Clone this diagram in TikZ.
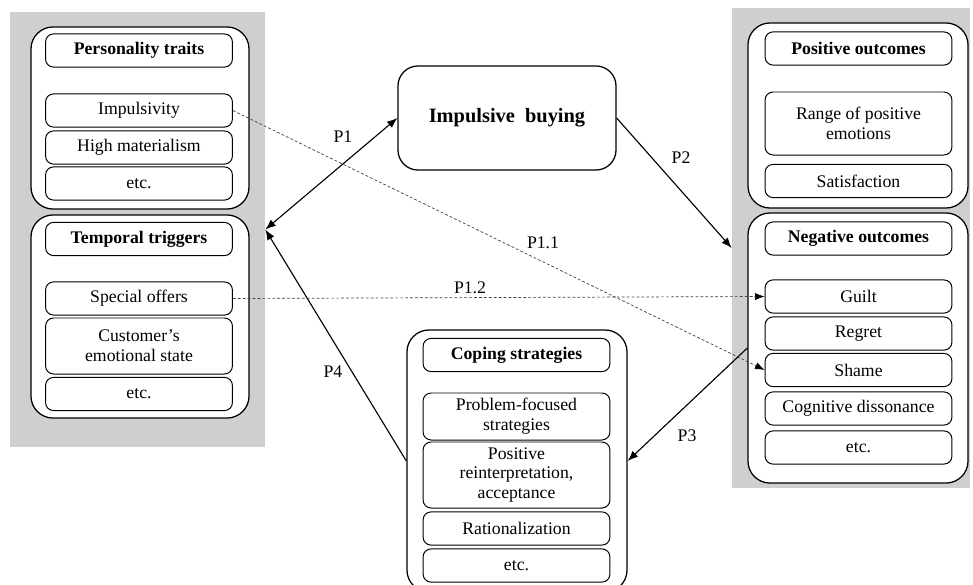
\documentclass[tikz,border=0pt]{standalone}
\usepackage{fontspec}
\setmainfont{Liberation Serif}
\usetikzlibrary{arrows.meta}
\definecolor{panelgray}{RGB}{208,206,208}

\begin{document}
\begin{tikzpicture}[x=0.025cm, y=-0.025cm,
    font=\fontsize{12.6}{14}\selectfont,
    panel/.style={fill=panelgray, inner sep=0pt},
    group/.style={draw, fill=white, line width=0.9pt, rounded corners=0.55cm, inner sep=0pt, minimum width=5.5cm},
    item/.style={draw, fill=white, line width=0.7pt, rounded corners=0.2cm, inner sep=0pt,
      minimum width=4.67cm, minimum height=0.83cm, align=center},
    head/.style={item, font=\fontsize{12.6}{14}\selectfont\bfseries},
    link/.style={-{Latex[length=2.6mm,width=2mm]}, line width=0.8pt},
    hint/.style={-{Latex[length=2.4mm,width=1.8mm,black]}, draw=black!75, line width=0.5pt,
      dash pattern=on 2pt off 1.5pt},
    tag/.style={inner sep=1pt}]
  \useasboundingbox (0,0) rectangle (973,585);

  % grey panels
  \node (leftpanel) [panel, minimum width=6.375cm, minimum height=10.875cm] at (137.5,229.5) {};
  \node (rightpanel) [panel, minimum width=5.95cm, minimum height=12cm] at (851,248) {};

  % antecedents
  \node (traits) [group, minimum width=5.45cm, minimum height=4.55cm] at (140,118) {};
  \node (traitshead) [head] at (139,50.5) {Personality traits};
  \node (impulsivity) [item] at (139,110.5) {Impulsivity};
  \node (materialism) [item] at (139,147.5) {High materialism};
  \node (traitsetc) [item] at (139,183.5) {etc.};

  \node (triggers) [group, minimum width=5.45cm, minimum height=5.075cm] at (140,316.5) {};
  \node (triggershead) [head] at (139,239) {Temporal triggers};
  \node (offers) [item] at (139,298.5) {Special offers};
  \node (emotional) [item, minimum height=1.4cm] at (139,346) {Customer’s\\emotional state};
  \node (triggersetc) [item] at (139,394) {etc.};

  % behaviour
  \node (buying) [draw, fill=white, line width=0.9pt, rounded corners=0.5cm, minimum width=5.45cm,
    minimum height=2.6cm, font=\fontsize{14.5}{16}\selectfont\bfseries] at (507,118) {Impulsive\ \ buying};

  % outcomes
  \node (positive) [group, minimum height=4.625cm] at (858,115.5) {};
  \node (positivehead) [head] at (858.5,48.5) {Positive outcomes};
  \node (emotions) [item, minimum height=1.575cm] at (858.5,123.5) {Range of positive\\emotions};
  \node (satisfaction) [item] at (858.5,181) {Satisfaction};

  \node (negative) [group, minimum height=6.75cm] at (858,348) {};
  \node (negativehead) [head] at (858.5,238.5) {Negative outcomes};
  \node (guilt) [item] at (858.5,296.5) {Guilt};
  \node (regret) [item] at (858.5,333.5) {Regret};
  \node (shame) [item] at (858.5,370) {Shame};
  \node (dissonance) [item] at (858.5,408.5) {Cognitive dissonance};
  \node (negativeetc) [item] at (858.5,447.5) {etc.};

  % coping
  \node (coping) [group, minimum height=6.55cm] at (517,461) {};
  \node (copinghead) [head] at (516.5,355) {Coping strategies};
  \node (problem) [item, minimum height=1.175cm] at (516.5,416.5) {Problem-focused\\strategies};
  \node (reinterpret) [item, minimum height=1.65cm] at (516.5,475) {Positive\\reinterpretation,\\acceptance};
  \node (rational) [item] at (516.5,528.5) {Rationalization};
  \node (copingetc) [item] at (516.5,565.5) {etc.};

  % Arrows
  \draw[link, {Latex[length=2.6mm,width=2mm]}-{Latex[length=2.6mm,width=2mm]}] (leftpanel.east) -- (buying.west);
  \draw[link] (buying.east) -- (rightpanel.west);
  \draw[link] (negative.west) -- (coping.east);
  \draw[link] (coping.west) -- (leftpanel.east);
  \draw[hint] (impulsivity.east) -- (shame.west);
  \draw[hint] (offers.east) -- (guilt.west);

  % labels
  \node (p1) [tag] at (343,137) {P1};
  \node (p2) [tag] at (681,158) {P2};
  \node (p3) [tag] at (687,436) {P3};
  \node (p4) [tag] at (333,372) {P4};
  \node (p11) [tag] at (543,243) {P1.1};
  \node (p12) [tag] at (470,288) {P1.2};
\end{tikzpicture}
\end{document}
